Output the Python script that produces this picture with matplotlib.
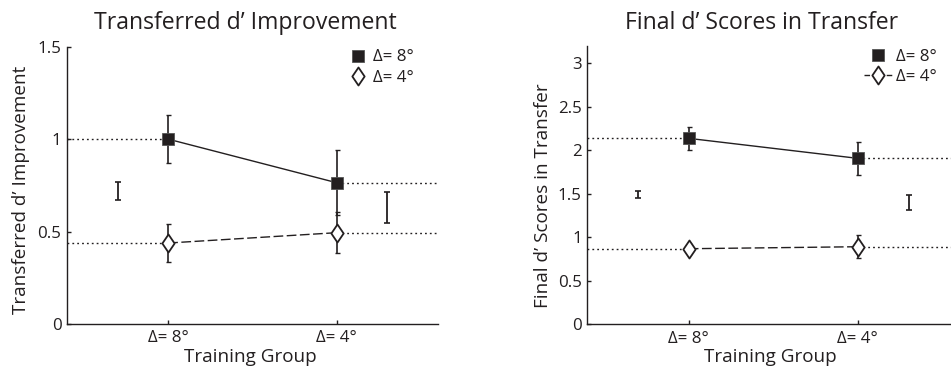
import matplotlib
matplotlib.use("Agg")
import matplotlib.pyplot as plt
from matplotlib.lines import Line2D
from matplotlib.path import Path

# ---------------- data ----------------
groups = [1, 2]
group_labels = ["Δ= 8°", "Δ= 4°"]
series_labels = ["Δ= 8°", "Δ= 4°"]

# left panel: transferred d' improvement
left_sq = [1.0, 0.764]
left_sq_err = [0.13, 0.176]
left_dia = [0.438, 0.494]
left_dia_err = [0.103, 0.112]
left_ref_x = [0.7, 2.3]
left_ref_y = [0.72, 0.63]
left_ref_err = [0.05, 0.082]
left_yticks = [0, 0.5, 1, 1.5]
left_yticklabels = ["0", "0.5", "1", "1.5"]

# right panel: final d' scores in transfer
right_sq = [2.138, 1.908]
right_sq_err = [0.13, 0.19]
right_dia = [0.869, 0.892]
right_dia_err = [0.06, 0.13]
right_ref_x = [0.7, 2.3]
right_ref_y = [1.494, 1.40]
right_ref_err = [0.042, 0.086]
right_yticks = [0, 0.5, 1, 1.5, 2, 2.5, 3]
right_yticklabels = ["0", "0.5", "1", "1.5", "2", "2.5", "3"]

# ---------------- style ----------------
FONT = ["Open Sans", "DejaVu Sans"]
plt.rcParams["font.family"] = FONT
INK = "#231f20"
W, H = 951, 372
fig = plt.figure(figsize=(W / 100, H / 100), dpi=100)

diamond = Path([(0, 1), (0.68, 0), (0, -1), (-0.68, 0), (0, 1)],
               [Path.MOVETO, Path.LINETO, Path.LINETO, Path.LINETO, Path.CLOSEPOLY])

TITLE_FS = 16.6
LABEL_FS = 13.6
TICK_FS = 12.2


def px_axes(x0, y0, x1, y1):
    return fig.add_axes([x0 / W, 1 - y1 / H, (x1 - x0) / W, (y1 - y0) / H])


def panel(ax, sq, sq_err, dia, dia_err, refx, refy, referr, ylim, yticks, yticklabels,
          title, title_x, ylabel, ylabel_xy, xlabel_xy, legend_pos, legend_line):
    xlim = (0.4, 2.6)
    ax.set_xlim(*xlim)
    ax.set_ylim(*ylim)
    for s in ("top", "right"):
        ax.spines[s].set_visible(False)
    for s in ("left", "bottom"):
        ax.spines[s].set_linewidth(1.0)
        ax.spines[s].set_color(INK)
    ax.set_yticks(yticks)
    ax.set_yticklabels(yticklabels)
    ax.set_xticks(groups)
    ax.set_xticklabels(group_labels)
    ax.tick_params(direction="in", length=3, width=1.0, color=INK, labelsize=TICK_FS,
                   labelcolor=INK)
    ax.tick_params(axis="y", pad=4)
    ax.tick_params(axis="x", pad=4.5)

    # dotted reference lines
    dot = dict(color=INK, lw=1.0, linestyle=(0, (1.3, 2.2)), zorder=1)
    ax.plot([xlim[0], groups[0]], [sq[0], sq[0]], **dot)
    ax.plot([xlim[0], groups[0]], [dia[0], dia[0]], **dot)
    ax.plot([groups[1], xlim[1]], [sq[1], sq[1]], **dot)
    ax.plot([groups[1], xlim[1]], [dia[1], dia[1]], **dot)

    # error bars
    ax.errorbar(groups, sq, yerr=sq_err, fmt="none", ecolor=INK, elinewidth=1.2,
                capsize=1.8, capthick=1.0, zorder=2)
    ax.errorbar(groups, dia, yerr=dia_err, fmt="none", ecolor=INK, elinewidth=1.2,
                capsize=1.8, capthick=1.0, zorder=2)
    ax.errorbar(refx, refy, yerr=referr, fmt="none", ecolor=INK, elinewidth=1.3,
                capsize=2.5, capthick=1.2, zorder=2)

    # series
    ax.plot(groups, sq, color=INK, lw=1.0, zorder=3)
    ax.plot(groups, sq, linestyle="none", marker="s", ms=8.3, mfc=INK, mec="#555555",
            mew=0.6, zorder=4)
    ax.plot(groups, dia, color=INK, lw=1.0, linestyle=(0, (7, 2.5)), zorder=3)
    ax.plot(groups, dia, linestyle="none", marker=diamond, ms=13, mfc="white",
            mec=INK, mew=1.3, zorder=4)

    ax.set_title(title, fontsize=TITLE_FS, x=title_x, pad=12.5, color=INK)
    ax.set_ylabel(ylabel, fontsize=LABEL_FS, color=INK)
    ax.yaxis.set_label_coords(*ylabel_xy)
    ax.set_xlabel("Training Group", fontsize=LABEL_FS, color=INK)
    ax.xaxis.set_label_coords(*xlabel_xy)

    h_sq = Line2D([], [], linestyle="none", marker="s", ms=8.3, mfc=INK, mec="#555555",
                  mew=0.6)
    if legend_line:
        h_dia = Line2D([], [], color=INK, lw=1.0, linestyle=(0, (4, 1.5, 1, 1.5)),
                       marker=diamond, ms=13, mfc="white", mec=INK, mew=1.3)
        hl = 1.6
        htp = 0.25
    else:
        h_dia = Line2D([], [], linestyle="none", marker=diamond, ms=13, mfc="white",
                       mec=INK, mew=1.3)
        hl = 1.0
        htp = 0.4
    leg = ax.legend([h_sq, h_dia], series_labels, loc="upper left",
                    bbox_to_anchor=legend_pos, frameon=False, fontsize=TICK_FS,
                    borderpad=0, borderaxespad=0, handlelength=hl,
                    handletextpad=htp, labelspacing=0.25, numpoints=1)
    for t in leg.get_texts():
        t.set_color(INK)


ax1 = px_axes(67, 46.7, 438, 324)
panel(ax1, left_sq, left_sq_err, left_dia, left_dia_err, left_ref_x, left_ref_y,
      left_ref_err, (0, 1.5), left_yticks, left_yticklabels,
      "Transferred d’ Improvement", 0.48, "Transferred d’ Improvement",
      (-0.10, 0.483), (0.493, -0.085), (0.762, 0.99), False)

ax2 = px_axes(587.3, 46, 959.3, 324.3)
panel(ax2, right_sq, right_sq_err, right_dia, right_dia_err, right_ref_x, right_ref_y,
      right_ref_err, (0, 3.2), right_yticks, right_yticklabels,
      "Final d’ Scores in Transfer", 0.468, "Final d’ Scores in Transfer",
      (-0.095, 0.461), (0.491, -0.085), (0.745, 0.99), True)

fig.savefig("out.png", dpi=100)
